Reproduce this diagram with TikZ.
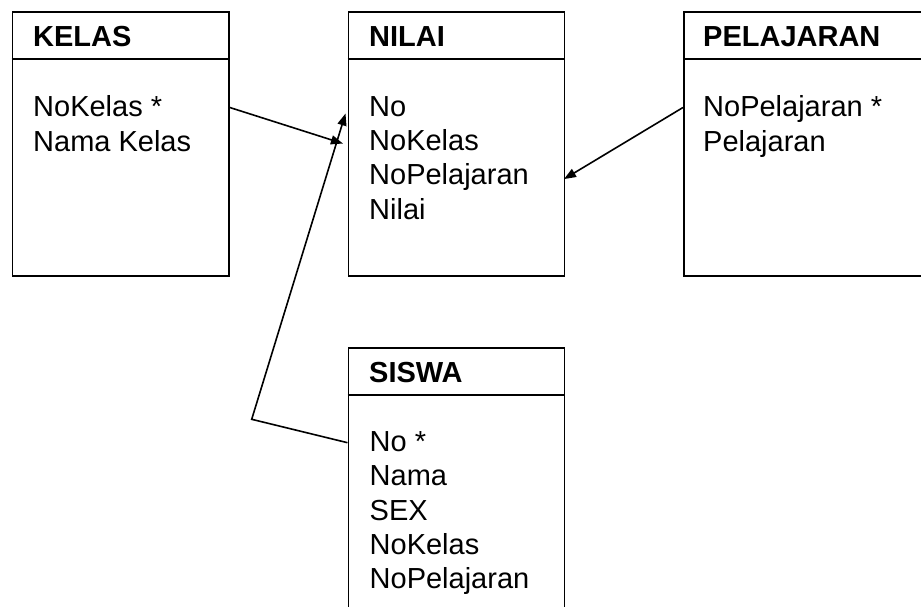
\documentclass[tikz,border=0pt]{standalone}
\usepackage{fontspec}
\setmainfont{Liberation Sans}
\usetikzlibrary{arrows.meta,calc}
\begin{document}
\begin{tikzpicture}[x=1pt,y=-1pt,
  entity/.style={draw,line width=1.8pt,inner sep=0pt,anchor=north west},
  title/.style={anchor=base west,inner sep=0pt,font=\fontsize{29}{34.5}\selectfont\bfseries},
  field/.style={anchor=base west,inner sep=0pt,font=\fontsize{29}{34.5}\selectfont},
  link/.style={line width=1.6pt,-{Triangle[length=12pt,width=9pt]}},
  plain/.style={line width=1.6pt}]
\useasboundingbox (0,0) rectangle (921,607);
\fill[white] (0,0) rectangle (921,607);
\clip (0,0) rectangle (921,607);

% entity boxes
\node[entity,minimum width=216.5pt,minimum height=264pt] (kelas) at (11.5,11) {};
\node[entity,minimum width=216pt,minimum height=264pt] (nilai) at (347.5,11) {};
\node[entity,minimum width=260pt,minimum height=264pt] (pelajaran) at (683,11) {};
\node[entity,minimum width=216pt,minimum height=300pt] (siswa) at (347.5,347) {};

% header separators
\foreach \e in {kelas,nilai,pelajaran,siswa}
  \draw[line width=1.8pt] ($(\e.north west)+(0,48)$) -- ($(\e.north east)+(0,48)$);

% titles
\node[title] (kelas-t) at ($(kelas.north west)+(21.5,35.5)$) {KELAS};
\node[title] (nilai-t) at ($(nilai.north west)+(21.5,35.5)$) {NILAI};
\node[title] (pelajaran-t) at ($(pelajaran.north west)+(20,35.5)$) {PELAJARAN};
\node[title] (siswa-t) at ($(siswa.north west)+(21.5,35)$) {SISWA};

% attributes
\foreach \f [count=\i] in {NoKelas *, Nama Kelas}
  \node[field] (kelas-f\i) at ($(kelas.north west)+(21.5,{105.5+35*(\i-1)})$) {\f};
\foreach \f [count=\i] in {No, NoKelas, NoPelajaran, Nilai}
  \node[field] (nilai-f\i) at ($(nilai.north west)+(21.5,{105.2+34.3*(\i-1)})$) {\f};
\foreach \f [count=\i] in {NoPelajaran *, Pelajaran}
  \node[field] (pelajaran-f\i) at ($(pelajaran.north west)+(20,{105.5+35*(\i-1)})$) {\f};
\foreach \f [count=\i] in {No *, Nama, SEX, NoKelas, NoPelajaran}
  \node[field] (siswa-f\i) at ($(siswa.north west)+(22,{104.7+34.2*(\i-1)})$) {\f};

% relationships
\coordinate (bend) at (251.7,419.3);
\draw[link,shorten >=4.8pt] (kelas.east |- 0,107.5) -- (nilai.west |- 0,145);
\draw[link,shorten >=6.8pt] (siswa.west |- 0,442.7) -- (bend) -- (nilai.west |- 0,107);
\draw[link,shorten >=-1.5pt] (pelajaran.west |- 0,107.5) -- (nilai.east |- 0,178.3);
\end{tikzpicture}
\end{document}
